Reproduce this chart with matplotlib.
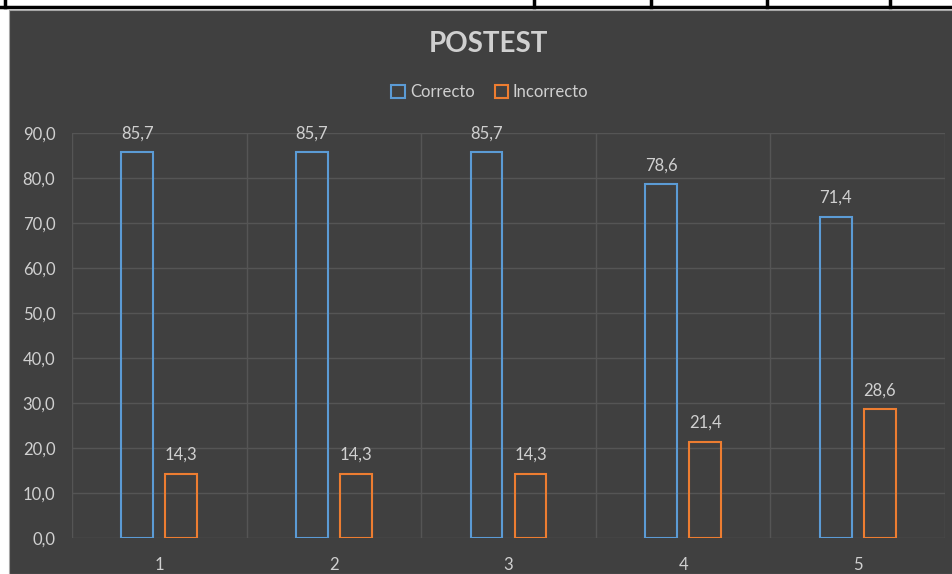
import numpy as np
import matplotlib.pyplot as plt
from matplotlib.patches import Rectangle
from matplotlib.lines import Line2D

# data
categories = ['1', '2', '3', '4', '5']
correcto = [85.7, 85.7, 85.7, 78.6, 71.4]
incorrecto = [14.3, 14.3, 14.3, 21.4, 28.6]
yticks = [0, 10, 20, 30, 40, 50, 60, 70, 80, 90]

blue = '#5B9BD5'
orange = '#ED7D31'
bg = '#404040'
grid = '#555555'
txt = '#D0D0D0'

plt.rcParams['font.family'] = ['Lato', 'DejaVu Sans']

W, H = 953, 574
fig = plt.figure(figsize=(W / 100, H / 100), dpi=100)
fig.patch.set_facecolor('white')

# spreadsheet strip above the chart
fig.add_artist(Line2D([0, 1], [1 - 6.5 / H, 1 - 6.5 / H], color='black', lw=2.5,
                      transform=fig.transFigure, zorder=-2))
for xs in [5, 534, 651, 767, 890]:
    fig.add_artist(Line2D([xs / W, xs / W], [1 - 6.5 / H, 1], color='black', lw=2.5,
                          transform=fig.transFigure, zorder=-2))
fig.add_artist(Rectangle((9 / W, 0), 1 - 9 / W, 1 - 10 / H, transform=fig.transFigure,
                         facecolor=bg, edgecolor='#A6A6A6', lw=0.8, zorder=-1))

ax = fig.add_axes([72 / W, 36 / H, 873 / W, 405 / H])
ax.set_facecolor('none')

x = np.arange(len(categories))
bw = 0.183
off = 0.126
b1 = ax.bar(x - off, correcto, bw, facecolor='none', edgecolor=blue, lw=1.5, label='Correcto', zorder=3)
b2 = ax.bar(x + off, incorrecto, bw, facecolor='none', edgecolor=orange, lw=1.5, label='Incorrecto', zorder=3)

for bars, vals in [(b1, correcto), (b2, incorrecto)]:
    for r, v in zip(bars, vals):
        ax.annotate(('%.1f' % v).replace('.', ','), (r.get_x() + r.get_width() / 2, v),
                    xytext=(0, 8), textcoords='offset points', ha='center', va='bottom',
                    color=txt, fontsize=12)

ax.set_xlim(-0.5, len(categories) - 0.5)
ax.set_ylim(0, 90)
ax.set_yticks(yticks)
ax.set_yticklabels([('%.1f' % v).replace('.', ',') for v in yticks])
ax.set_xticks(x)
ax.set_xticklabels(categories)
ax.set_xticks(np.arange(-0.5, len(categories), 1), minor=True)
ax.tick_params(axis='both', which='both', length=0, colors=txt, labelsize=12)
ax.tick_params(axis='y', pad=12)
ax.tick_params(axis='x', pad=14)
ax.grid(axis='y', which='major', color=grid, lw=1)
ax.grid(axis='x', which='minor', color=grid, lw=1)
ax.set_axisbelow(True)
for s in ax.spines.values():
    s.set_visible(False)

fig.text(488 / W, 1 - 44 / H, 'POSTEST', ha='center', va='center', fontsize=20,
         fontweight='bold', color=txt)
fig.legend(handles=[Rectangle((0, 0), 1, 1, facecolor='none', edgecolor=blue, lw=1.5),
                    Rectangle((0, 0), 1, 1, facecolor='none', edgecolor=orange, lw=1.5)],
           labels=['Correcto', 'Incorrecto'], loc='center', bbox_to_anchor=(490 / W, 1 - 92 / H),
           ncol=2, frameon=False, fontsize=12, labelcolor=txt, handlelength=0.8, handleheight=0.8,
           handletextpad=0.3, columnspacing=1.2)

fig.savefig('out.png', dpi=100, facecolor=fig.get_facecolor())
